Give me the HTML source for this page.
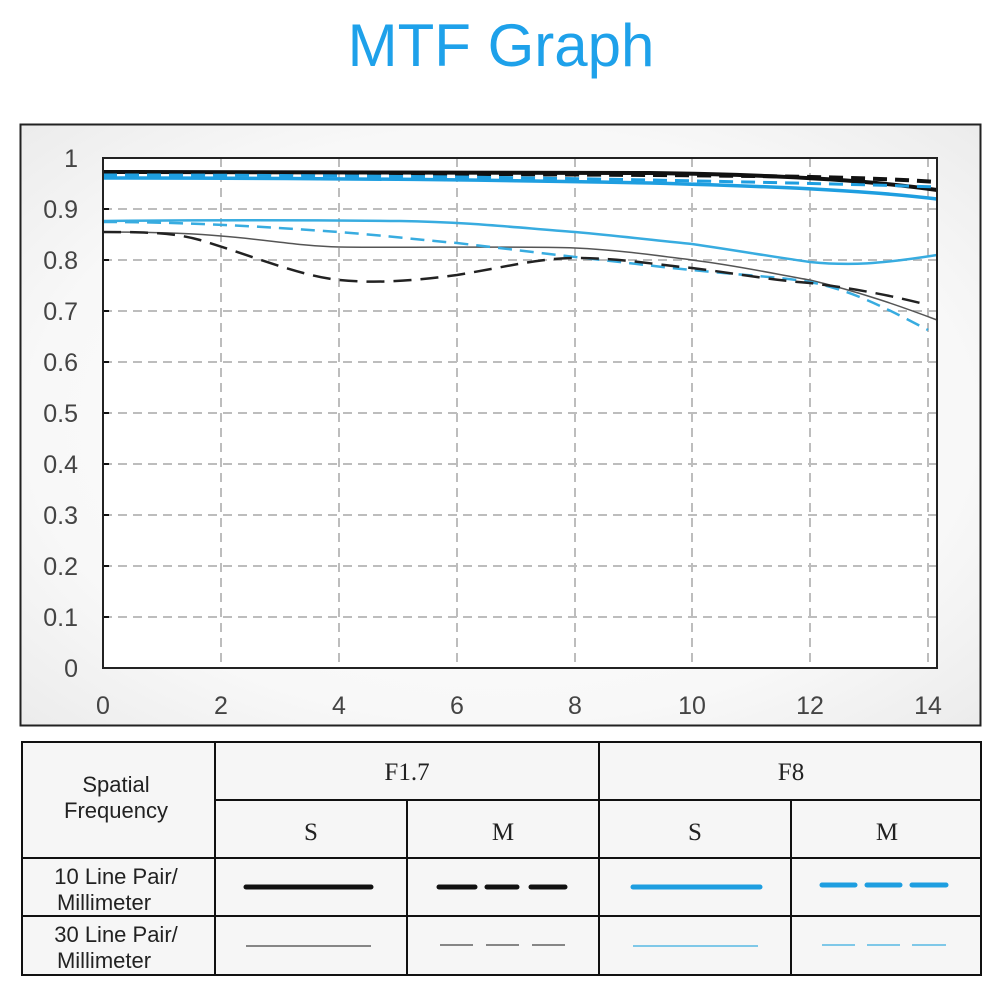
<!DOCTYPE html>
<html><head><meta charset="utf-8"><style>
html,body{margin:0;padding:0;background:#fff;}
svg{display:block;}
</style></head><body>
<svg width="1000" height="1000" viewBox="0 0 1000 1000" xmlns="http://www.w3.org/2000/svg">
<defs>
<radialGradient id="bg" cx="50%" cy="50%" r="70%">
<stop offset="0" stop-color="#ffffff"/><stop offset="0.7" stop-color="#f8f8f8"/><stop offset="1" stop-color="#ececec"/>
</radialGradient>
</defs>
<text x="501" y="66" text-anchor="middle" font-family="Liberation Sans, sans-serif" font-size="60" fill="#1ea1ea">MTF Graph</text>
<rect x="20.5" y="124.5" width="960" height="601" fill="url(#bg)" stroke="#222" stroke-width="2"/>
<rect x="103" y="158" width="834" height="510" fill="#ffffff"/>
<g stroke="#bdbdbd" stroke-width="2" stroke-dasharray="9,6" fill="none">
<line x1="103" y1="209" x2="937" y2="209"/><line x1="103" y1="260" x2="937" y2="260"/>
<line x1="103" y1="311" x2="937" y2="311"/><line x1="103" y1="362" x2="937" y2="362"/>
<line x1="103" y1="413" x2="937" y2="413"/><line x1="103" y1="464" x2="937" y2="464"/>
<line x1="103" y1="515" x2="937" y2="515"/><line x1="103" y1="566" x2="937" y2="566"/>
<line x1="103" y1="617" x2="937" y2="617"/>
<line x1="221" y1="158" x2="221" y2="668"/><line x1="339" y1="158" x2="339" y2="668"/>
<line x1="457" y1="158" x2="457" y2="668"/><line x1="575" y1="158" x2="575" y2="668"/>
<line x1="692" y1="158" x2="692" y2="668"/><line x1="810" y1="158" x2="810" y2="668"/>
<line x1="928" y1="158" x2="928" y2="668"/>
</g>
<g stroke="#111" stroke-width="2">
<line x1="103" y1="209" x2="109" y2="209"/><line x1="103" y1="260" x2="109" y2="260"/>
<line x1="103" y1="311" x2="109" y2="311"/><line x1="103" y1="362" x2="109" y2="362"/>
<line x1="103" y1="413" x2="109" y2="413"/><line x1="103" y1="464" x2="109" y2="464"/>
<line x1="103" y1="515" x2="109" y2="515"/><line x1="103" y1="566" x2="109" y2="566"/>
<line x1="103" y1="617" x2="109" y2="617"/>
</g>
<g fill="none" stroke-linecap="butt">
<!-- 30 lp thin -->
<path d="M103,232 C160,232 200,234 221,236 C270,240 300,246 339,247 C400,248 520,246 575,248 C620,250 660,256 692,260 C740,266 780,275 810,280 C860,292 900,306 937,320" stroke="#555" stroke-width="1.5"/>
<path d="M103,221 C200,220 300,220 400,221 C470,222 520,228 575,232 C630,237 660,241 692,244 C740,251 780,258 810,262 C850,266 880,264 937,255" stroke="#38ace0" stroke-width="2.5"/>
<path d="M103,222 C200,222 280,228 339,232 C390,236 420,240 457,243 C500,248 540,253 575,257 C630,263 660,267 692,270 C740,275 780,277 810,282 C850,290 880,305 928,330" stroke="#38ace0" stroke-width="2.5" stroke-dasharray="14,8"/>
<path d="M103,232 C150,232 175,233 200,240 C250,255 300,276 339,280 C380,284 420,280 457,275 C500,268 540,258 575,258 C620,258 650,264 692,268 C740,274 770,280 810,283 C850,288 890,295 928,305" stroke="#222" stroke-width="2.5" stroke-dasharray="18,9"/>
<!-- 10 lp thick -->
<path d="M103,172 C300,172 500,172 650,173 C800,175 880,182 937,190" stroke="#111" stroke-width="4"/>
<path d="M103,173 C300,173 500,174 650,175 C800,176 880,178 937,182" stroke="#111" stroke-width="4" stroke-dasharray="14,8"/>
<path d="M103,178 C300,178 500,180 650,183 C800,187 880,192 937,199" stroke="#1e9ee0" stroke-width="3.5"/>
<path d="M103,175 C300,175 500,177 650,180 C800,183 880,185 937,187" stroke="#1e9ee0" stroke-width="3" stroke-dasharray="14,8"/>
</g>
<rect x="103" y="158" width="834" height="510" fill="none" stroke="#222" stroke-width="2"/>
<g font-family="Liberation Sans, sans-serif" font-size="25" fill="#444" text-anchor="end">
<text x="78" y="167">1</text><text x="78" y="218">0.9</text><text x="78" y="269">0.8</text>
<text x="78" y="320">0.7</text><text x="78" y="371">0.6</text><text x="78" y="422">0.5</text>
<text x="78" y="473">0.4</text><text x="78" y="524">0.3</text><text x="78" y="575">0.2</text>
<text x="78" y="626">0.1</text><text x="78" y="677">0</text>
</g>
<g font-family="Liberation Sans, sans-serif" font-size="25" fill="#444" text-anchor="middle">
<text x="103" y="714">0</text><text x="221" y="714">2</text><text x="339" y="714">4</text>
<text x="457" y="714">6</text><text x="575" y="714">8</text><text x="692" y="714">10</text>
<text x="810" y="714">12</text><text x="928" y="714">14</text>
</g>
<!-- table -->
<rect x="22" y="742" width="959" height="233" fill="#f6f6f6"/>
<g stroke="#111" stroke-width="2" fill="none">
<rect x="22" y="742" width="959" height="233"/>
<line x1="215" y1="742" x2="215" y2="975"/><line x1="599" y1="742" x2="599" y2="975"/>
<line x1="407" y1="800" x2="407" y2="975"/><line x1="791" y1="800" x2="791" y2="975"/>
<line x1="215" y1="800" x2="981" y2="800"/>
<line x1="22" y1="858" x2="981" y2="858"/><line x1="22" y1="916" x2="981" y2="916"/>
</g>
<g font-family="Liberation Serif, serif" font-size="25" fill="#222" text-anchor="middle">
<text x="407" y="780">F1.7</text><text x="791" y="780">F8</text>
<text x="311" y="840">S</text><text x="503" y="840">M</text>
<text x="695" y="840">S</text><text x="887" y="840">M</text>
</g>
<g font-family="Liberation Sans, sans-serif" font-size="22" fill="#222" text-anchor="middle">
<text x="116" y="792">Spatial</text><text x="116" y="818">Frequency</text>
<text x="116" y="884">10 Line Pair/</text><text x="104" y="910">Millimeter</text>
<text x="116" y="942">30 Line Pair/</text><text x="104" y="968">Millimeter</text>
</g>
<g stroke-linecap="round">
<line x1="246" y1="887" x2="371" y2="887" stroke="#111" stroke-width="5"/>
<line x1="439" y1="887" x2="475" y2="887" stroke="#111" stroke-width="5"/>
<line x1="487" y1="887" x2="517" y2="887" stroke="#111" stroke-width="5"/>
<line x1="531" y1="887" x2="565" y2="887" stroke="#111" stroke-width="5"/>
<line x1="633" y1="887" x2="760" y2="887" stroke="#1e9ee0" stroke-width="5"/>
<line x1="822" y1="885" x2="855" y2="885" stroke="#1e9ee0" stroke-width="5"/>
<line x1="867" y1="885" x2="900" y2="885" stroke="#1e9ee0" stroke-width="5"/>
<line x1="912" y1="885" x2="946" y2="885" stroke="#1e9ee0" stroke-width="5"/>
</g>
<line x1="246" y1="946" x2="371" y2="946" stroke="#444" stroke-width="1.3"/>
<line x1="440" y1="945" x2="473" y2="945" stroke="#444" stroke-width="1.3"/>
<line x1="486" y1="945" x2="519" y2="945" stroke="#444" stroke-width="1.3"/>
<line x1="532" y1="945" x2="565" y2="945" stroke="#444" stroke-width="1.3"/>
<line x1="633" y1="946" x2="758" y2="946" stroke="#38ace0" stroke-width="1.3"/>
<line x1="822" y1="945" x2="855" y2="945" stroke="#38ace0" stroke-width="1.3"/>
<line x1="867" y1="945" x2="900" y2="945" stroke="#38ace0" stroke-width="1.3"/>
<line x1="912" y1="945" x2="946" y2="945" stroke="#38ace0" stroke-width="1.3"/>
</svg>
</body></html>
